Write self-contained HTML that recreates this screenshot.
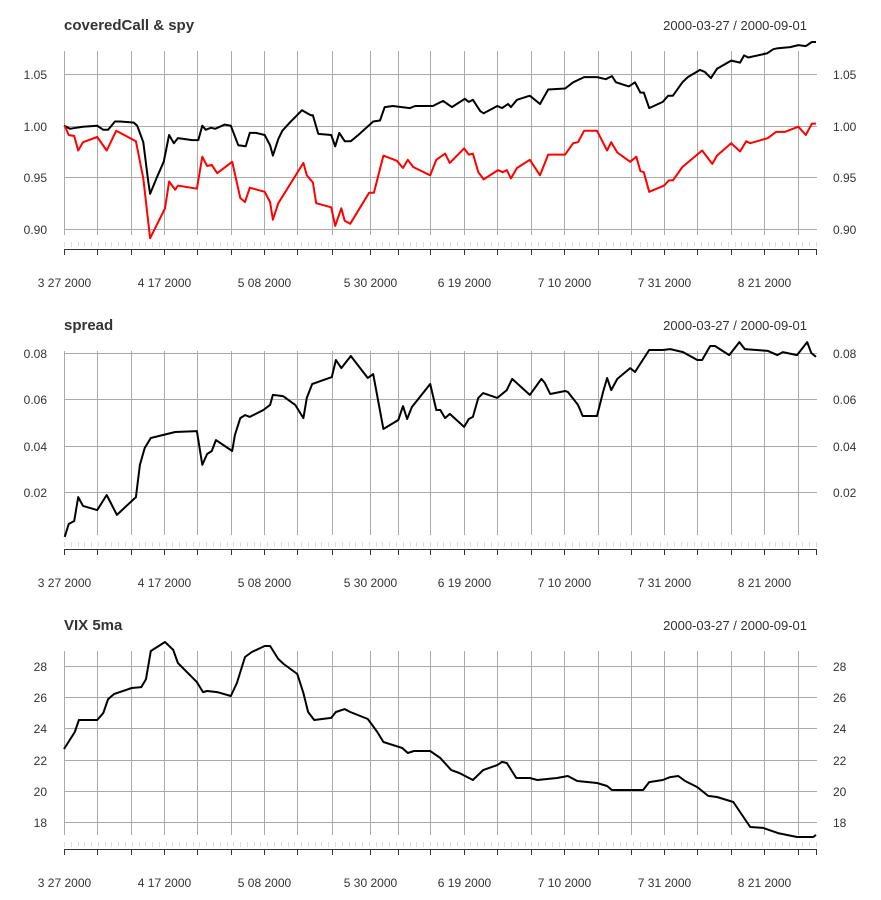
<!DOCTYPE html>
<html><head><meta charset="utf-8"><style>
body{margin:0;background:#fff;}
svg{display:block;font-family:"Liberation Sans",sans-serif;}
</style></head><body>
<svg id="chart" width="881" height="900" viewBox="0 0 881 900"></svg>
<script>
// ---- data ----
var gridDays = [0,4.91,9.88,14.79,19.66,24.68,29.54,34.41,39.48,45.09,49.22,54.0,59.0,63.9,68.8,73.8,78.7,83.6,88.5,93.4,98.3,103.3,108.2];
var dateLabels = ["3 27 2000","4 17 2000","5 08 2000","5 30 2000","6 19 2000","7 10 2000","7 31 2000","8 21 2000"];
var xMax = 110.9;

var ccDays = [0,0.9,1.8,2.8,4.9,5.8,6.5,7.5,8.3,10.3,10.8,11.7,12.4,12.7,13.7,14.7,15.5,16.2,16.8,18.9,19.8,20.4,20.9,21.7,22.3,23.7,24.6,25.7,26.8,27.4,28.3,29.6,30.4,30.8,31.6,32.2,33.3,35.1,36.4,36.7,37.5,39.4,40.0,40.6,41.4,42.3,43.4,45.1,45.6,46.6,47.3,48.5,51.0,51.8,54.4,55.9,57.2,59.1,59.7,60.3,61.4,61.9,63.9,64.6,65.5,65.9,66.8,68.7,70.2,71.4,73.9,75.1,76.7,78.6,79.9,80.8,81.4,83.3,84.2,85.0,85.5,86.3,88.3,89.1,89.8,91.2,92.0,93.8,94.5,95.4,96.3,98.4,99.7,100.3,100.9,103.7,104.6,105.3,107.1,108.3,109.4,110.3,110.9];
var ccValues = [1.000,0.997,0.998,0.999,1.000,0.996,0.996,1.004,1.004,1.003,1.000,0.984,0.947,0.934,0.950,0.965,0.991,0.983,0.988,0.986,0.986,1.000,0.996,0.998,0.997,1.001,1.000,0.981,0.980,0.993,0.993,0.991,0.981,0.971,0.987,0.995,1.003,1.015,1.010,1.010,0.992,0.991,0.980,0.993,0.985,0.985,0.991,1.001,1.004,1.005,1.018,1.019,1.017,1.019,1.019,1.024,1.018,1.026,1.023,1.025,1.014,1.012,1.019,1.017,1.021,1.018,1.025,1.029,1.021,1.035,1.036,1.042,1.047,1.047,1.045,1.048,1.042,1.038,1.042,1.032,1.032,1.017,1.023,1.029,1.029,1.042,1.047,1.054,1.052,1.046,1.055,1.063,1.061,1.068,1.066,1.070,1.074,1.075,1.076,1.078,1.077,1.081,1.081];

var spyDays = [0.1,0.7,1.5,2.1,2.8,4.9,6.3,7.7,10.6,11.7,12.7,14.9,15.5,16.4,16.8,19.6,20.4,21.1,21.8,22.6,24.8,26.0,26.7,27.4,29.6,30.4,30.8,31.6,35.3,35.8,36.7,37.2,39.4,40.0,40.9,41.4,42.2,45.0,45.7,47.1,49.1,50.0,50.7,51.5,54.0,54.9,56.2,56.9,59.0,59.7,60.3,61.1,61.9,64.0,64.7,65.3,65.9,66.8,68.7,70.2,71.4,73.9,75.1,75.8,76.7,78.6,80.1,80.7,81.6,83.5,84.4,85.0,85.5,86.3,88.5,89.2,89.8,91.2,94.1,95.6,96.3,98.4,99.7,100.6,101.2,103.8,105.0,106.3,108.3,109.4,110.3,110.9];
var spyValues = [1.000,0.991,0.990,0.976,0.984,0.989,0.976,0.995,0.985,0.949,0.891,0.920,0.946,0.938,0.942,0.939,0.970,0.961,0.962,0.954,0.965,0.930,0.926,0.940,0.936,0.926,0.909,0.925,0.964,0.952,0.945,0.925,0.921,0.903,0.920,0.908,0.905,0.935,0.935,0.971,0.966,0.959,0.967,0.960,0.952,0.967,0.973,0.964,0.978,0.972,0.973,0.955,0.948,0.957,0.955,0.957,0.949,0.959,0.967,0.952,0.972,0.972,0.983,0.984,0.995,0.995,0.976,0.984,0.974,0.965,0.970,0.956,0.955,0.936,0.942,0.947,0.947,0.960,0.976,0.963,0.971,0.983,0.975,0.985,0.983,0.988,0.994,0.994,0.999,0.991,1.002,1.002];

var spreadDays = [0.1,0.7,1.5,2.1,2.8,4.9,6.3,7.8,10.6,11.2,11.9,12.8,14.6,16.4,19.6,20.4,21.1,21.8,22.4,24.8,25.2,26.0,26.7,27.4,29.4,30.4,30.8,32.3,34.1,35.3,35.8,36.6,39.5,40.1,40.9,42.3,44.8,45.6,47.1,49.3,50.0,50.6,51.3,54.0,54.9,55.5,56.2,56.9,59.0,59.7,60.3,61.1,61.8,63.9,65.3,66.1,68.7,70.4,70.9,71.7,73.9,74.3,75.8,76.5,78.6,79.5,80.1,80.7,81.6,83.5,84.2,86.3,88.3,89.4,91.3,93.4,94.1,95.3,96.0,98.1,99.6,100.4,103.8,105.2,106.0,108.1,109.6,110.2,110.9];
var spreadValues = [0.0006,0.0062,0.0075,0.0178,0.0140,0.0122,0.0187,0.0101,0.0178,0.0317,0.0390,0.0433,0.0446,0.0459,0.0463,0.0317,0.0364,0.0377,0.0424,0.0377,0.0446,0.0519,0.0532,0.0524,0.0554,0.0576,0.0619,0.0614,0.0576,0.0519,0.0606,0.0666,0.0696,0.0770,0.0735,0.0787,0.0692,0.0709,0.0472,0.0511,0.0571,0.0515,0.0567,0.0666,0.0554,0.0554,0.0519,0.0537,0.0481,0.0515,0.0524,0.0606,0.0627,0.0606,0.0640,0.0688,0.0619,0.0688,0.0671,0.0623,0.0636,0.0632,0.0576,0.0528,0.0528,0.0632,0.0692,0.0640,0.0688,0.0735,0.0718,0.0813,0.0813,0.0817,0.0804,0.0770,0.0770,0.0830,0.0830,0.0791,0.0847,0.0817,0.0809,0.0791,0.0804,0.0791,0.0847,0.0800,0.0783];

var vixDays = [0,1.6,2.2,4.9,5.8,6.5,7.4,10.0,11.4,12.1,12.8,14.9,16.1,16.8,19.6,20.5,21.1,22.6,24.6,25.5,26.7,27.7,29.6,30.4,31.6,32.4,34.4,35.3,36.0,36.9,39.4,40.1,41.4,42.2,44.8,46.2,47.1,49.9,50.7,51.6,54.0,55.5,57.1,58.3,60.3,61.8,63.9,64.6,65.3,66.7,68.7,69.8,72.7,74.3,75.7,78.6,80.1,80.8,85.4,86.3,88.3,89.4,90.6,91.6,93.4,95.0,96.3,98.7,101.2,103.1,105.3,108.1,110.5,110.9];
var vixValues = [22.68,23.77,24.54,24.54,24.99,25.88,26.21,26.59,26.65,27.16,28.96,29.54,29.03,28.19,26.97,26.33,26.40,26.33,26.08,26.91,28.58,28.90,29.28,29.28,28.45,28.13,27.49,26.27,25.05,24.54,24.67,25.05,25.24,25.05,24.60,23.77,23.13,22.74,22.42,22.55,22.55,22.10,21.33,21.14,20.69,21.33,21.65,21.85,21.78,20.82,20.82,20.69,20.82,20.95,20.63,20.50,20.31,20.05,20.05,20.56,20.69,20.88,20.95,20.63,20.24,19.67,19.60,19.28,17.68,17.62,17.29,17.04,17.04,17.17];

var ticks1 = [0.90,0.95,1.00,1.05];
var ticks2 = [0.02,0.04,0.06,0.08];
var ticks3 = [18,20,22,24,26,28];

// ---- drawing ----
var NS = "http://www.w3.org/2000/svg";
var svg = document.getElementById("chart");
var X0 = 64, X1 = 816;
function xs(d){ return X0 + d/xMax*(X1-X0); }
function mk(tag, attrs, parent){
  var e = document.createElementNS(NS, tag);
  for (var k in attrs) e.setAttribute(k, attrs[k]);
  (parent||svg).appendChild(e);
  return e;
}

var panels = [
  {title:"coveredCall & spy", off:0, v0:1.05, p0:74, v1:0.90, p1:229, ticks:ticks1, fmt:function(v){return v.toFixed(2);},
   series:[{d:ccDays,v:ccValues,c:"#000",w:2,name:"coveredcall-line"},{d:spyDays,v:spyValues,c:"#ff0000",w:2,name:"spy-line"}]},
  {title:"spread", off:300, v0:0.08, p0:53, v1:0.02, p1:192, ticks:ticks2, fmt:function(v){return v.toFixed(2);},
   series:[{d:spreadDays,v:spreadValues,c:"#000",w:2,name:"spread-line"}]},
  {title:"VIX 5ma", off:600, v0:28, p0:66, v1:18, p1:222, ticks:ticks3, fmt:function(v){return String(v);},
   series:[{d:vixDays,v:vixValues,c:"#000",w:2,name:"vix-line"}]}
];

panels.forEach(function(P, pi){
  var g = mk("g", {transform:"translate(0,"+P.off+")"});
  
  
  function ys(v){ return P.p0 + (v - P.v0)/(P.v1 - P.v0)*(P.p1 - P.p0); }

  var t = mk("text", {x:64, y:30, "font-size":"15", "font-weight":"bold", fill:"#333"}, g);
  t.textContent = P.title;
  
  
  var r = mk("text", {x:807, y:30, "font-size":"13", fill:"#333", "text-anchor":"end"}, g);
  r.textContent = "2000-03-27 / 2000-09-01";
  
  

  P.ticks.forEach(function(v){
    var y = Math.round(ys(v)) + 0.5;
    var l = mk("line", {x1:X0, x2:X1+1, y1:y, y2:y, stroke:"#aaa", "stroke-width":1}, g);
    
    
    var a = mk("text", {x:47, y:y+4.5, "font-size":"12", fill:"#333", "text-anchor":"end"}, g);
    a.textContent = P.fmt(v);
    
    
    var b = mk("text", {x:833, y:y+4.5, "font-size":"12", fill:"#333"}, g);
    b.textContent = P.fmt(v);
    
    
  });

  gridDays.forEach(function(d, i){
    var x = Math.round(xs(d)) + 0.5;
    var l = mk("line", {x1:x, x2:x, y1:51, y2:235, stroke:"#aaa", "stroke-width":1}, g);
    
    
    var tk = mk("line", {x1:x, x2:x, y1:249, y2:255, stroke:"#333", "stroke-width":1}, g);
    
    
    if (i % 3 === 0) {
      var lb = mk("text", {x:x, y:287, "font-size":"12", fill:"#333", "text-anchor":"middle"}, g);
      lb.textContent = dateLabels[i/3];
      
      
    }
  });
  var te = mk("line", {x1:X1+0.5, x2:X1+0.5, y1:249, y2:255, stroke:"#333", "stroke-width":1}, g);
  
  

  var mp = "";
  for (var d = 0; d <= xMax + 0.01; d += xMax/111) {
    var x = Math.round(xs(d)) + 0.5;
    mp += "M"+x+" 242V247";
  }
  var mt = mk("path", {d:mp, stroke:"#ddd", "stroke-width":1, fill:"none"}, g);
  
  

  var ax = mk("line", {x1:X0, x2:X1+1, y1:249.5, y2:249.5, stroke:"#333", "stroke-width":1}, g);
  
  

  P.series.forEach(function(S){
    var pts = S.d.map(function(d, i){ return xs(d).toFixed(1)+","+ys(S.v[i]).toFixed(1); }).join(" ");
    var pl = mk("polyline", {points:pts, fill:"none", stroke:S.c, "stroke-width":S.w, "stroke-linejoin":"round"}, g);
    
    
  });
});
</script>
</body></html>
